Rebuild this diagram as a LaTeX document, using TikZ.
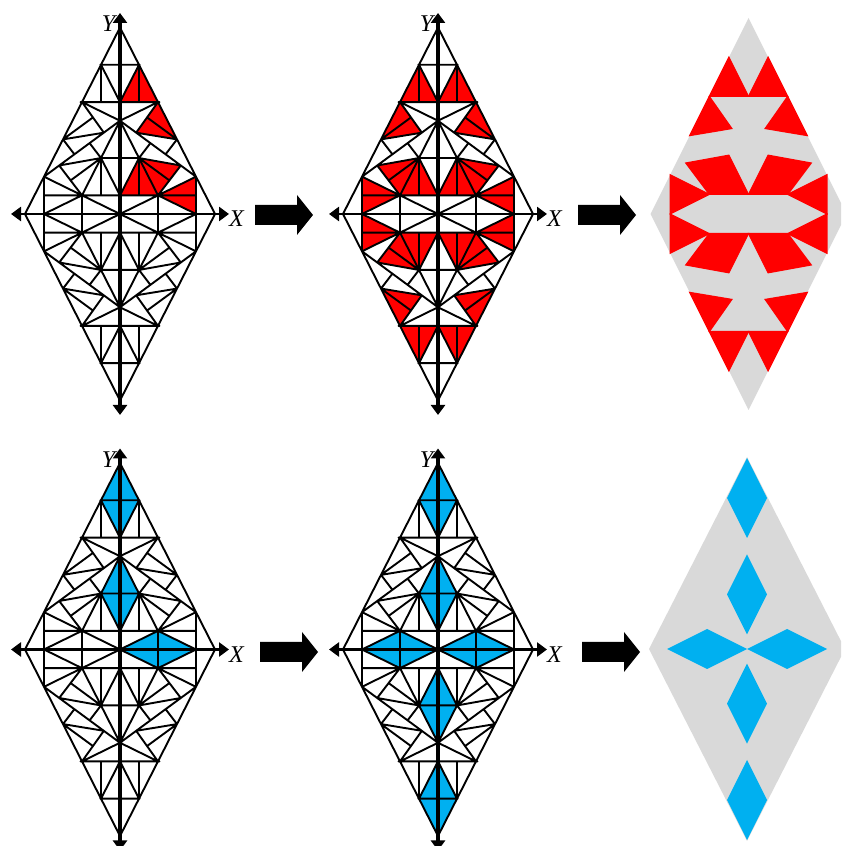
\documentclass[tikz,border=0pt]{standalone}
\usepackage{fontspec}
\setmainfont{Liberation Serif}
\usetikzlibrary{arrows.meta}
\definecolor{cgrey}{HTML}{D9D9D9}
\definecolor{cred}{HTML}{FF0000}
\definecolor{cblue}{HTML}{00B0F0}
\tikzset{
  gridline/.style={line width=1.9pt,black,line cap=round,line join=round},
  xaxisline/.style={line width=2.6pt,black,{Triangle[length=10pt,width=14pt]}-{Triangle[length=10pt,width=14pt]}},
  yaxisline/.style={line width=3.4pt,black,{Triangle[length=10pt,width=14pt]}-{Triangle[length=10pt,width=14pt]}},
  axislabel/.style={font=\fontsize{24}{24}\selectfont\itshape,inner sep=0pt},
  bigarrow/.style={fill=black,draw=none},
  redcell/.style={fill=cred},
  lat/.style={x=19pt,y=18.65pt},
  plain/.style={x=19.6pt,y=19.6pt}
}
% one quadrant of the lattice
\newcommand{\quadlines}{%
  \draw[gridline] (0,10)--(5,0)
    (0,8)--(1.04,8) (1,8)--(1,6) (1,8)--(0,6)
    (0,6)--(2.08,6) (2,6)--(0,5)
    (2,6)--(0.85,4.36) (3,4)--(0.85,4.36) (3,4)--(1.42,5.18)
    (0,5)--(4,2) (3,4)--(2.4,3.2)
    (0,5)--(1,3) (1.6,3.8)--(1,3)
    (0,3)--(1,3) (1,3)--(1,1) (1,3)--(0,1) (1,3)--(2,1)
    (3.2,2.6)--(1,3) (3.2,2.6)--(2,1) (1,3)--(2.6,1.8)
    (4,2)--(2,1) (4,2)--(4,0) (0,1)--(4,1) (2,1)--(2,0)
    (4,0)--(2,1) (2,1)--(0,0);
}
% the red cells of one quadrant
\newcommand{\redcells}{%
  \path[redcell] (1,8)--(2,6)--(0,6)--cycle;
  \path[redcell] (2,6)--(3,4)--(0.85,4.36)--cycle;
  \path[redcell] (1,3)--(3.2,2.6)--(2,1)--(0,1)--cycle;
  \path[redcell] (4,2)--(4,0)--(2,1)--cycle;
}
\newcommand{\allquads}[1]{%
  \foreach \sx in {1,-1}{\foreach \sy in {1,-1}{%
    \begin{scope}[xscale=\sx,yscale=\sy]#1\end{scope}}}%
}
\newcommand{\axes}{%
  \draw[xaxisline] (-109,0)--(109,0);
  \draw[yaxisline] (0,201)--(0,-201);
  \node[axislabel] at (116.5,-5) {X};
  \node[axislabel] at (-11.5,190) {Y};
}
\newcommand{\bluev}[1]{\fill[cblue] (0,#1+2)--(1,#1)--(0,#1-2)--(-1,#1)--cycle;}
\newcommand{\bigarr}[2]{%
  \fill[bigarrow] ([shift={(0,10)}]#1,#2)--++(42,0)--++(0,10)--++(16,-20)--++(-16,-20)--++(0,10)--++(-42,0)--cycle;
}
\begin{document}
\begin{tikzpicture}[x=1pt,y=1pt]
\clip (0,0) rectangle (841,846);
% top left
\begin{scope}[shift={(120,632)}]
  \begin{scope}[lat]\redcells\allquads{\quadlines}\end{scope}\axes
\end{scope}
% top middle
\begin{scope}[shift={(438,632)}]
  \begin{scope}[lat]\allquads{\redcells}\allquads{\quadlines}\end{scope}\axes
\end{scope}
% top right
\begin{scope}[shift={(748.5,632)}]
  \begin{scope}[plain,redcell/.append style={draw=cred,line width=1.2pt,line join=miter}]
    \fill[cgrey] (0,10)--(5,0)--(0,-10)--(-5,0)--cycle;
    \allquads{\redcells}
  \end{scope}
\end{scope}
% bottom left
\begin{scope}[shift={(120,196.5)}]
  \begin{scope}[lat]
    \bluev{8}\bluev{3}
    \fill[cblue] (0,0)--(2,1)--(4,0)--(2,-1)--cycle;
    \allquads{\quadlines}
  \end{scope}\axes
\end{scope}
% bottom middle
\begin{scope}[shift={(438,196.5)}]
  \begin{scope}[lat]
    \allquads{\bluev{8}\bluev{3}\fill[cblue] (0,0)--(2,1)--(4,0)--(2,-1)--cycle;}
    \allquads{\quadlines}
  \end{scope}\axes
\end{scope}
% bottom right
\begin{scope}[shift={(747,197)}]
  \fill[cgrey] (0,192)--(98,0)--(0,-192)--(-98,0)--cycle;
  \begin{scope}[x=20pt,y=20pt]
    \foreach \cy in {7.55,2.73,-2.73,-7.55}{
      \fill[cblue] (0,\cy+2)--(1,\cy)--(0,\cy-2)--(-1,\cy)--cycle;}
    \foreach \sx in {1,-1}{
      \fill[cblue] (0,0)--(\sx*2,1)--(\sx*4,0)--(\sx*2,-1)--cycle;}
  \end{scope}
\end{scope}
% block arrows
\bigarr{255}{631}
\bigarr{578}{631}
\bigarr{260}{194}
\bigarr{582}{194}
\end{tikzpicture}
\end{document}
